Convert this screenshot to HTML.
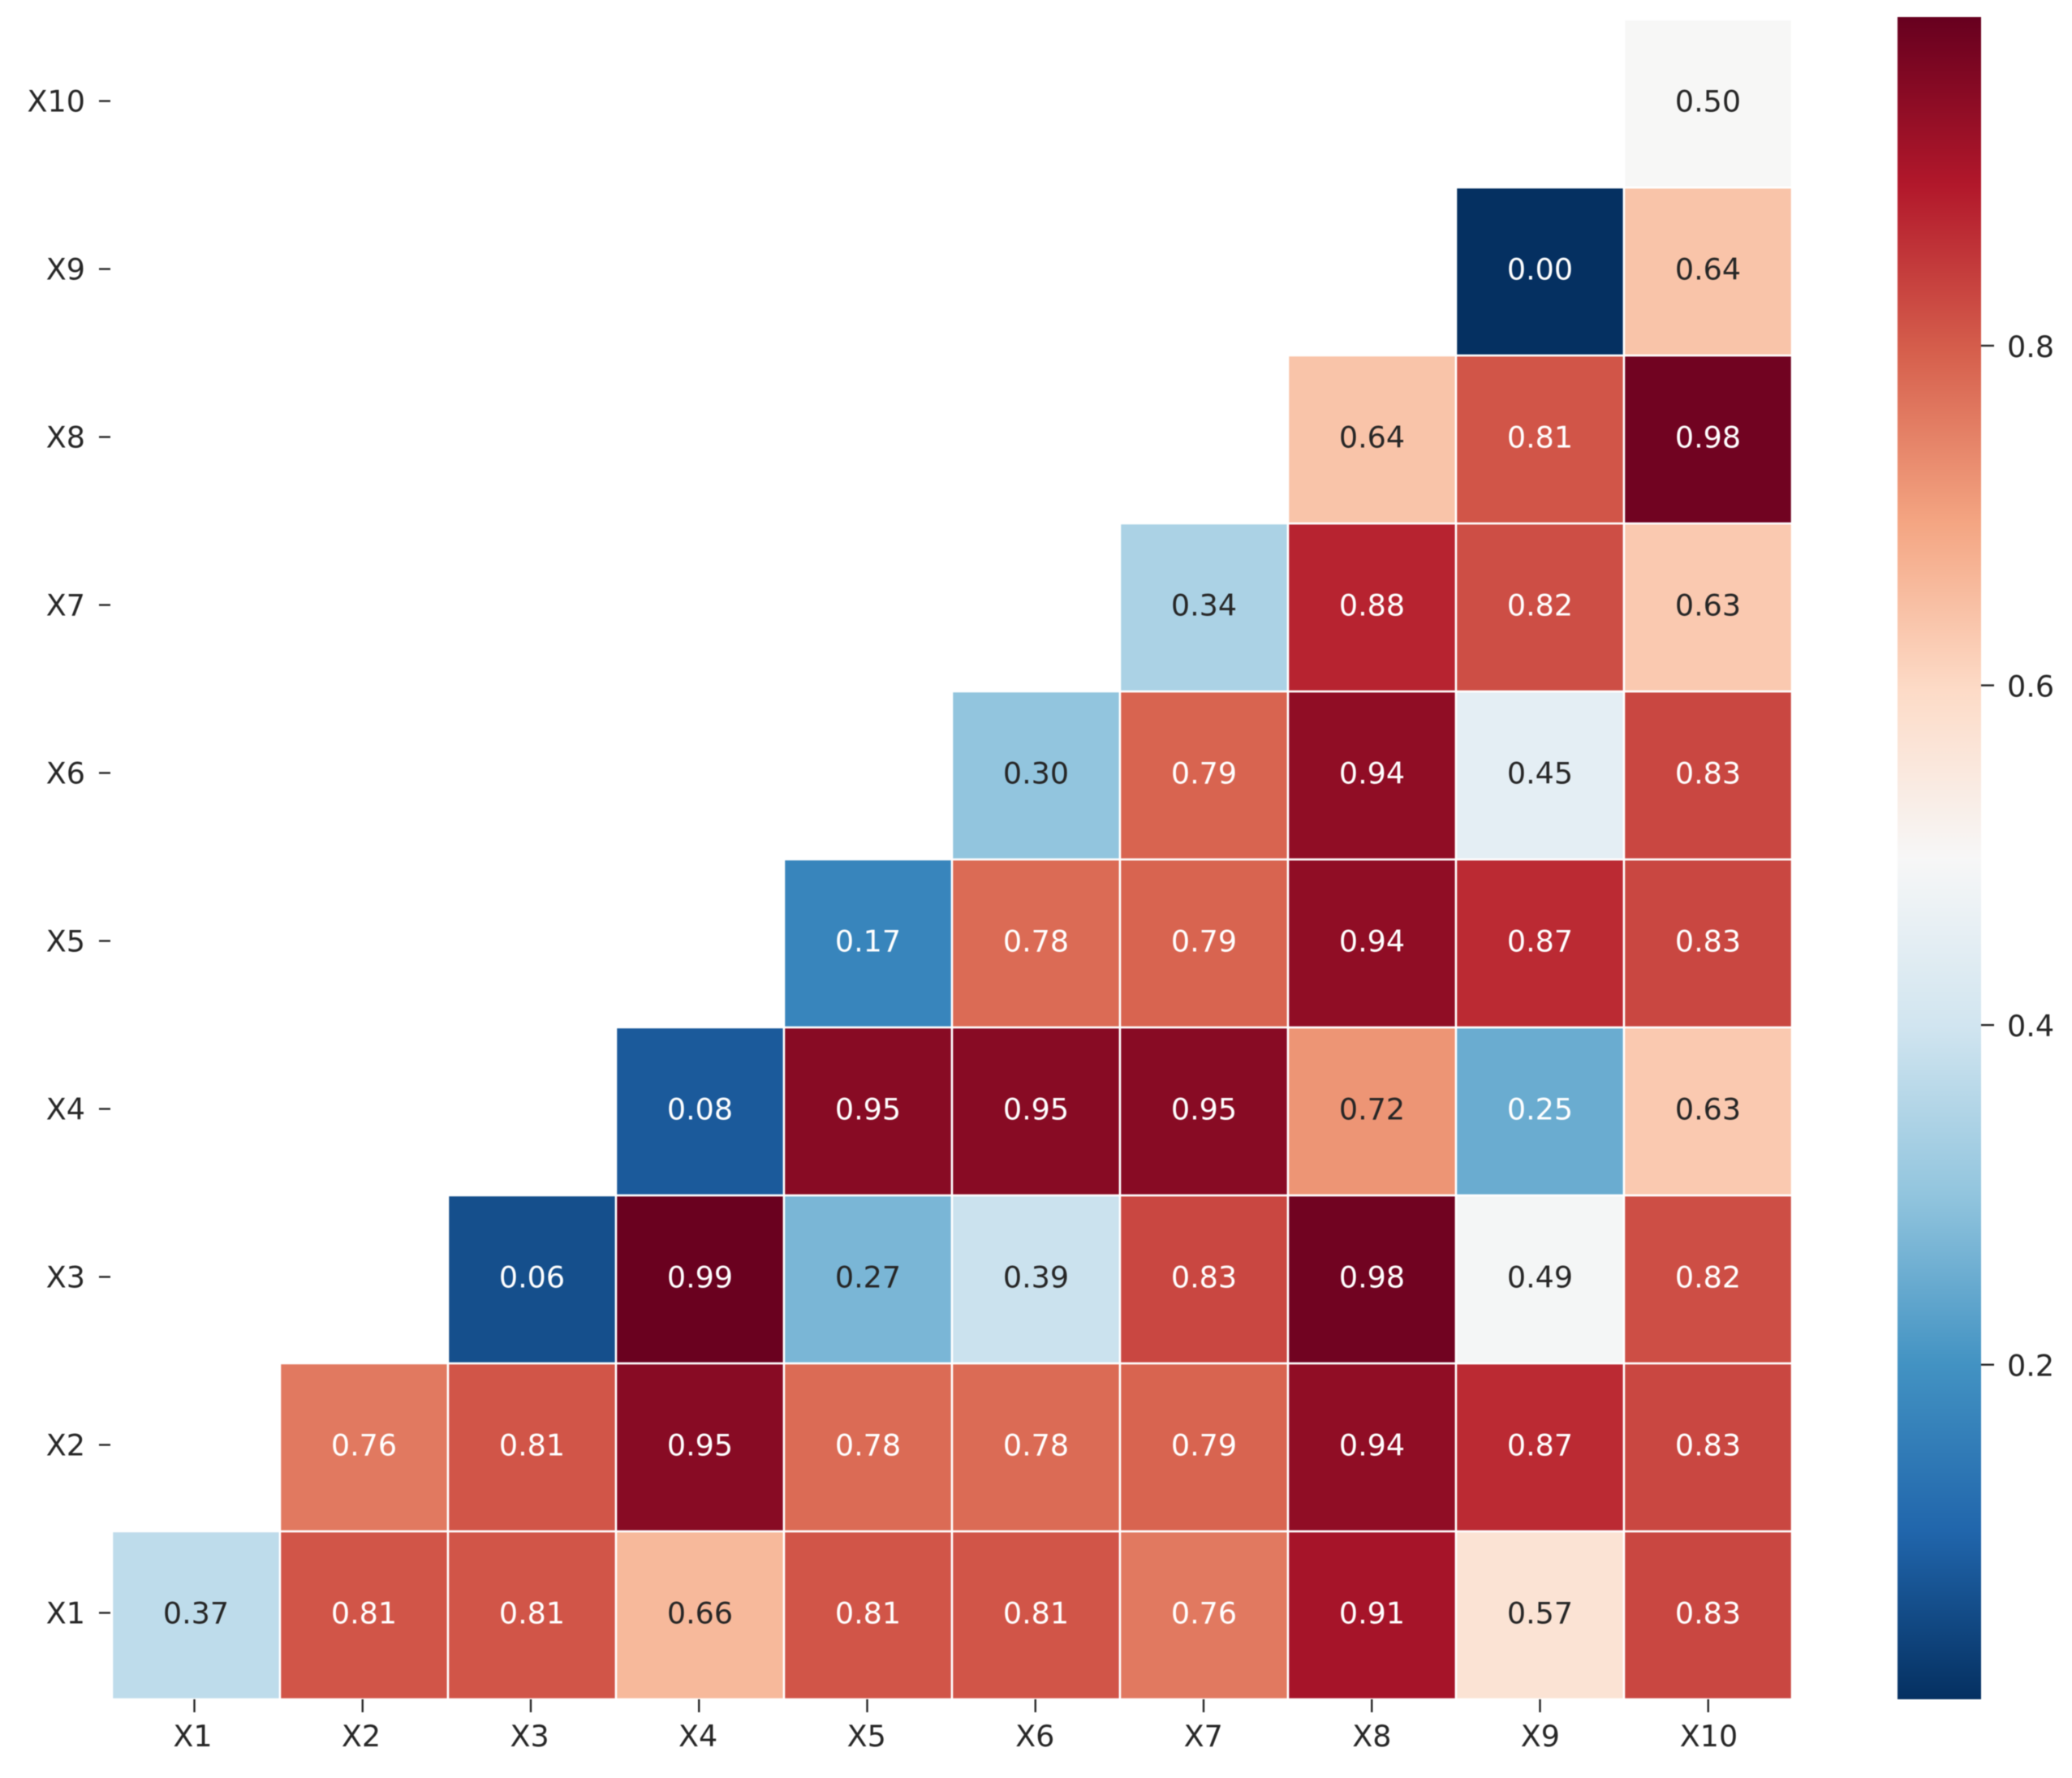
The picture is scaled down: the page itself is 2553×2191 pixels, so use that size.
<!DOCTYPE html>
<html lang="en">
<head>
<meta charset="utf-8">
<title>Correlation heatmap</title>
<style>
html,body{margin:0;padding:0;background:#fff;}
body{width:2553px;height:2191px;overflow:hidden;}
svg{display:block;filter:blur(0.55px);}
text{font-family:"DejaVu Sans","Liberation Sans",sans-serif;}
</style>
</head>
<body>
<svg id="chart" xmlns="http://www.w3.org/2000/svg" width="2553" height="2191" viewBox="0 0 2553 2191">
  <rect x="0" y="0" width="2553" height="2191" fill="#ffffff"/>
  <defs><linearGradient id="cbar-gradient" x1="0" y1="1" x2="0" y2="0"></linearGradient></defs>
  <g id="cells"></g>
  <g id="x-axis"></g>
  <g id="y-axis"></g>
  <g id="colorbar"></g>
</svg>
<script>
const categories = ['X1','X2','X3','X4','X5','X6','X7','X8','X9','X10'];
// Each row's values, listed from X1 upward; null cells are masked.
const rowX1  = [0.37,0.81,0.81,0.66,0.81,0.81,0.76,0.91,0.57,0.83];
const rowX2  = [null,0.76,0.81,0.95,0.78,0.78,0.79,0.94,0.87,0.83];
const rowX3  = [null,null,0.06,0.99,0.27,0.39,0.83,0.98,0.49,0.82];
const rowX4  = [null,null,null,0.08,0.95,0.95,0.95,0.72,0.25,0.63];
const rowX5  = [null,null,null,null,0.17,0.78,0.79,0.94,0.87,0.83];
const rowX6  = [null,null,null,null,null,0.30,0.79,0.94,0.45,0.83];
const rowX7  = [null,null,null,null,null,null,0.34,0.88,0.82,0.63];
const rowX8  = [null,null,null,null,null,null,null,0.64,0.81,0.98];
const rowX9  = [null,null,null,null,null,null,null,null,0.00,0.64];
const rowX10 = [null,null,null,null,null,null,null,null,null,0.50];
const matrix = [rowX1,rowX2,rowX3,rowX4,rowX5,rowX6,rowX7,rowX8,rowX9,rowX10];
const colorbarTicks = [0.2,0.4,0.6,0.8];
const valueMin = 0.003;
const valueMax = 0.9935;
const paletteRdBuR = ['#053061','#2166ac','#4393c3','#92c5de','#d1e5f0','#f7f7f7','#fddbc7','#f4a582','#d6604d','#b2182b','#67001f'];

const NS = 'http://www.w3.org/2000/svg';
const plot = {left:138, right:2208, top:24, bottom:2094};
const cbar = {left:2338, right:2441, top:21, bottom:2094};
const FONT = 36.5;
const INK = '#262626';
const LABEL_LIFT = 3;

function xScale(i){ return plot.left + (plot.right - plot.left) * i / categories.length; }
function yScale(i){ return plot.bottom - (plot.bottom - plot.top) * i / categories.length; }
function cbarY(v){ return cbar.bottom - (cbar.bottom - cbar.top) * (v - valueMin) / (valueMax - valueMin); }

function hexToRgb(h){ return [1,3,5].map(function(p){ return parseInt(h.substr(p,2),16); }); }
function colorFor(v){
  const t = Math.max(0, Math.min(1, (v - valueMin) / (valueMax - valueMin))) * (paletteRdBuR.length - 1);
  const i = Math.min(Math.floor(t), paletteRdBuR.length - 2);
  const a = hexToRgb(paletteRdBuR[i]);
  const b = hexToRgb(paletteRdBuR[i + 1]);
  return a.map(function(c,k){ return Math.round(c + (b[k] - c) * (t - i)); });
}
function luminance(rgb){
  const lin = rgb.map(function(c){ const s = c / 255; return s <= 0.03928 ? s / 12.92 : Math.pow((s + 0.055) / 1.055, 2.4); });
  return 0.2126 * lin[0] + 0.7152 * lin[1] + 0.0722 * lin[2];
}
function make(tag, attrs, parent){
  const el = document.createElementNS(NS, tag);
  Object.keys(attrs).forEach(function(k){ el.setAttribute(k, attrs[k]); });
  parent.appendChild(el);
  return el;
}

const cellsG = document.getElementById('cells');
matrix.forEach(function(row, r){
  row.forEach(function(v, c){
    if (v === null) return;
    const rgb = colorFor(v);
    const x0 = xScale(c), x1 = xScale(c + 1), y1 = yScale(r), y0 = yScale(r + 1);
    const cell = make('rect', {x:x0, y:y0, width:x1 - x0, height:y1 - y0, fill:'rgb(' + rgb.join(',') + ')', stroke:'#ffffff', 'stroke-width':2.5}, cellsG);
    
    
    const label = make('text', {x:(x0 + x1) / 2, y:(y0 + y1) / 2 + FONT * 0.36 - LABEL_LIFT, 'text-anchor':'middle', 'font-size':FONT, fill:luminance(rgb) < 0.39 ? '#ffffff' : INK}, cellsG);
    label.textContent = v.toFixed(2);
    
    
  });
});

const xAxisG = document.getElementById('x-axis');
const yAxisG = document.getElementById('y-axis');
categories.forEach(function(name, i){
  const cx = (xScale(i) + xScale(i + 1)) / 2;
  const tickX = cx - 2 + i * 0.25;
  const xTick = make('line', {x1:tickX, x2:tickX, y1:plot.bottom, y2:plot.bottom + 16, stroke:INK, 'stroke-width':2.4}, xAxisG);
  
  
  const xLabel = make('text', {x:cx - 4 + i * 0.55, y:plot.bottom + 58, 'text-anchor':'middle', 'font-size':FONT, fill:INK}, xAxisG);
  xLabel.textContent = name;
  
  

  const cy = (yScale(i) + yScale(i + 1)) / 2 - LABEL_LIFT;
  const yTick = make('line', {x1:plot.left - 16, x2:plot.left - 2, y1:cy, y2:cy, stroke:INK, 'stroke-width':2.4}, yAxisG);
  
  
  const yLabel = make('text', {x:plot.left - 33, y:cy + FONT * 0.36, 'text-anchor':'end', 'font-size':FONT, fill:INK}, yAxisG);
  yLabel.textContent = name;
  
  
});

const grad = document.getElementById('cbar-gradient');
paletteRdBuR.forEach(function(col, i){
  make('stop', {offset:(i / (paletteRdBuR.length - 1)), 'stop-color':col}, grad);
});
const cbarG = document.getElementById('colorbar');
const cbarRect = make('rect', {x:cbar.left, y:cbar.top, width:cbar.right - cbar.left, height:cbar.bottom - cbar.top, fill:'url(#cbar-gradient)'}, cbarG);


colorbarTicks.forEach(function(v){
  const y = cbarY(v);
  const tick = make('line', {x1:cbar.right, x2:cbar.right + 16, y1:y, y2:y, stroke:INK, 'stroke-width':2.4}, cbarG);
  
  
  const label = make('text', {x:cbar.right + 32, y:y + FONT * 0.38, 'font-size':FONT, fill:INK}, cbarG);
  label.textContent = v.toFixed(1);
  
  
});
</script>
</body>
</html>
